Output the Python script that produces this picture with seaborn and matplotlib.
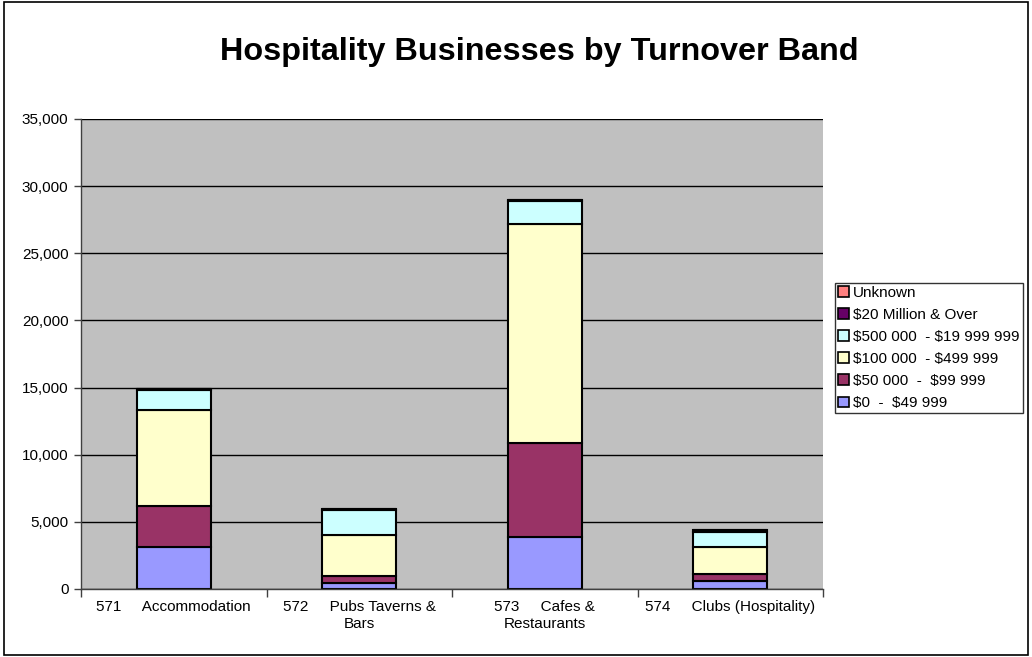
import matplotlib
matplotlib.use("Agg")
import matplotlib.pyplot as plt
from matplotlib.patches import Patch, Rectangle
from matplotlib.ticker import FuncFormatter, FixedLocator
import seaborn as sns
import pandas as pd

categories = ["571     Accommodation", "572     Pubs Taverns &\nBars",
              "573     Cafes &\nRestaurants", "574     Clubs (Hospitality)"]
bands = ["Unknown", "\\$20 Million & Over", "\\$500 000  - \\$19 999 999",
         "\\$100 000  - \\$499 999", "\\$50 000  -  \\$99 999", "\\$0  -  \\$49 999"]

v_0_49k = [3100, 450, 3900, 600]
v_50_99k = [3100, 500, 6950, 480]
v_100_499k = [7100, 3050, 16300, 2050]
v_500k_20m = [1500, 1900, 1750, 1120]
v_20m_over = [100, 50, 60, 120]
v_unknown = [20, 10, 20, 10]

colors = ["#FF8080", "#660066", "#CCFFFF", "#FFFFCC", "#993366", "#9999FF"]

series = [v_unknown, v_20m_over, v_500k_20m, v_100_499k, v_50_99k, v_0_49k]
rows = []
for band, vals in zip(bands, series):
    for i, v in enumerate(vals):
        rows.append({"pos": i, "band": band, "count": v})
df = pd.DataFrame(rows)

sns.set_style("white")
plt.rcParams["font.family"] = ["Liberation Sans", "DejaVu Sans"]
for k in ["text.color", "axes.labelcolor", "xtick.color", "ytick.color"]:
    plt.rcParams[k] = "black"

fig = plt.figure(figsize=(10.32, 6.57), dpi=100)
ax = fig.add_axes([81/1032, 1-589/657, (823-81)/1032, (589-119)/657])
ax.set_facecolor("#C0C0C0")

sns.histplot(data=df, x="pos", weights="count", hue="band", hue_order=bands,
             multiple="stack", discrete=True, shrink=0.4,
             palette=dict(zip(bands, colors)), alpha=1,
             edgecolor="black", linewidth=1.5, ax=ax, legend=False)

ax.set_ylim(0, 35000)
ax.set_xlim(-0.5, 3.5)
ax.set_yticks(range(0, 35001, 5000))
ax.yaxis.set_major_formatter(FuncFormatter(lambda v, p: f"{int(v):,}"))
ax.grid(axis="y", color="black", linewidth=1)
ax.set_axisbelow(True)
for s in ["top", "right"]:
    ax.spines[s].set_visible(False)
for s in ["left", "bottom"]:
    ax.spines[s].set_color("#404040")
    ax.spines[s].set_linewidth(1)

ax.xaxis.set_major_locator(FixedLocator([-0.5, 0.5, 1.5, 2.5, 3.5]))
ax.xaxis.set_major_formatter(FuncFormatter(lambda v, p: ""))
ax.xaxis.set_minor_locator(FixedLocator([0, 1, 2, 3]))
ax.set_xticklabels(categories, minor=True, fontsize=11, linespacing=1.3)
ax.tick_params(axis="x", which="major", direction="out", length=6, width=1, color="#404040", bottom=True)
ax.tick_params(axis="x", which="minor", length=0, pad=8, labelcolor="black")
ax.tick_params(axis="y", direction="out", length=5, width=1, color="#404040", labelsize=11, left=True, pad=4, labelcolor="black")
for lab in ax.get_xticklabels(minor=True):
    lab.set_multialignment("center")
ax.set_xlabel("")
ax.set_ylabel("")

handles = [Patch(facecolor=c, edgecolor="black", linewidth=1.2) for c in colors]
leg = fig.legend(handles, bands, loc="center left",
                 bbox_to_anchor=(835/1032, 1-348/657), fontsize=11,
                 frameon=True, fancybox=False, edgecolor="black",
                 handlelength=0.7, handleheight=0.7, handletextpad=0.3,
                 labelspacing=0.53, borderpad=0.2, borderaxespad=0)
leg.get_frame().set_linewidth(1)
for t in leg.get_texts():
    t.set_color("black")

fig.text(539/1032, 1-52/657, "Hospitality Businesses by Turnover Band",
         ha="center", va="center", fontsize=23.3, fontweight="bold", color="black")

fig.patches.append(Rectangle((0.004, 0.003), 0.992, 0.994, transform=fig.transFigure,
                             fill=False, edgecolor="black", linewidth=1.2))

fig.savefig("out.png", dpi=100)
